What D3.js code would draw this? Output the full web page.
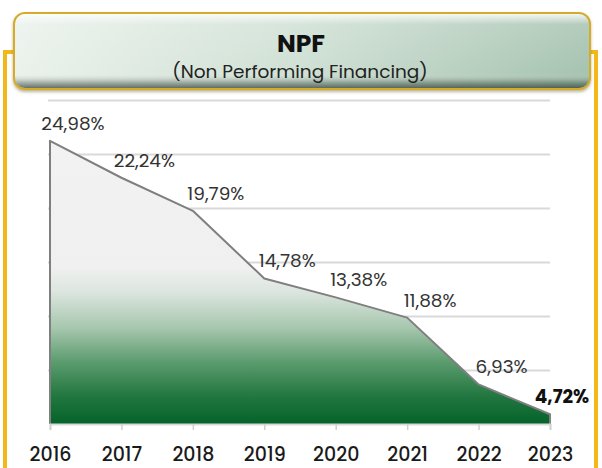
<!DOCTYPE html>
<html>
<head>
<meta charset="utf-8">
<script src="https://cdn.jsdelivr.net/npm/d3@7"></script>
<style>
  html, body { margin: 0; padding: 0; background: #fff; }
  svg { display: block; font-family: "Poppins", Inter, "Noto Sans", sans-serif; }
</style>
</head>
<body>
<svg id="chart" width="602" height="468"></svg>
<script>
// data
const years = [2016, 2017, 2018, 2019, 2020, 2021, 2022, 2023];
const npf = [24.98, 22.24, 19.79, 14.78, 13.38, 11.88, 6.93, 4.72];
const npfLabels = ["24,98%", "22,24%", "19,79%", "14,78%", "13,38%", "11,88%", "6,93%", "4,72%"];
const gridTicks = [4, 8, 12, 16, 20, 24, 28];

const title = "NPF";
const subtitle = "(Non Performing Financing)";

const data = years.map((y, i) => ({ year: y, v: npf[i], label: npfLabels[i] }));

const svg = d3.select("#chart");
const defs = svg.append("defs");

// gold frame
svg.append("rect")
  .attr("x", 5).attr("y", 52).attr("width", 591).attr("height", 480)
  .attr("fill", "#fff").attr("stroke", "#f2b81a").attr("stroke-width", 4);

// title box gradients
const hg = defs.append("linearGradient").attr("id", "titleH")
  .attr("x1", 0).attr("x2", 1).attr("y1", 0).attr("y2", 0);
hg.append("stop").attr("offset", "0%").attr("stop-color", "#ebf2ec");
hg.append("stop").attr("offset", "50%").attr("stop-color", "#cfe0d4");
hg.append("stop").attr("offset", "100%").attr("stop-color", "#a6c3b0");

const vg = defs.append("linearGradient").attr("id", "titleV")
  .attr("x1", 0).attr("x2", 0).attr("y1", 0).attr("y2", 1);
vg.append("stop").attr("offset", "0%").attr("stop-color", "#fff").attr("stop-opacity", 0.85);
vg.append("stop").attr("offset", "14%").attr("stop-color", "#fff").attr("stop-opacity", 0.15);
vg.append("stop").attr("offset", "80%").attr("stop-color", "#fff").attr("stop-opacity", 0);
vg.append("stop").attr("offset", "92%").attr("stop-color", "#1e2e22").attr("stop-opacity", 0.3);
vg.append("stop").attr("offset", "100%").attr("stop-color", "#1e2e22").attr("stop-opacity", 0.65);

const shadow = defs.append("filter").attr("id", "shadow")
  .attr("x", "-5%").attr("y", "-20%").attr("width", "110%").attr("height", "150%");
shadow.append("feDropShadow").attr("dx", 0).attr("dy", 2).attr("stdDeviation", 1.5)
  .attr("flood-color", "#7a6a30").attr("flood-opacity", 0.5);

const tb = { x: 14, y: 13, w: 576, h: 76 };
svg.append("rect")
  .attr("x", tb.x).attr("y", tb.y).attr("width", tb.w).attr("height", tb.h)
  .attr("rx", 11)
  .attr("fill", "url(#titleH)").attr("stroke", "#d6ab2a").attr("stroke-width", 2)
  .attr("filter", "url(#shadow)");
svg.append("rect")
  .attr("x", tb.x + 1).attr("y", tb.y + 1).attr("width", tb.w - 2).attr("height", tb.h - 2)
  .attr("rx", 10).attr("fill", "url(#titleV)");

svg.append("text").text(title)
  .attr("x", 301).attr("y", 52).attr("text-anchor", "middle")
  .attr("font-size", 25).attr("font-weight", 700).attr("fill", "#111");
svg.append("text").text(subtitle)
  .attr("x", 300).attr("y", 78).attr("text-anchor", "middle")
  .attr("font-size", 18.5).attr("font-weight", 400).attr("fill", "#222");

// chart
const x = d3.scalePoint().domain(years).range([50, 550]);
const y = d3.scaleLinear().domain([4, 28]).range([424, 100]);

// gridlines
svg.append("g")
  .attr("transform", "translate(550,0)")
  .call(d3.axisLeft(y).tickValues(gridTicks.slice(1)).tickSize(502).tickFormat(""))
  .call(g => g.select(".domain").remove())
  .call(g => g.selectAll("line").attr("stroke", "#d9d9d9").attr("stroke-width", 2));

// area gradient
const ag = defs.append("linearGradient").attr("id", "areaFill")
  .attr("gradientUnits", "userSpaceOnUse")
  .attr("x1", 0).attr("x2", 0).attr("y1", y(npf[0])).attr("y2", y(4));
ag.append("stop").attr("offset", "0%").attr("stop-color", "#f2f2f2");
ag.append("stop").attr("offset", "45%").attr("stop-color", "#eff0ef");
ag.append("stop").attr("offset", "53%").attr("stop-color", "#dde6e0");
ag.append("stop").attr("offset", "66%").attr("stop-color", "#a7c7ae");
ag.append("stop").attr("offset", "78%").attr("stop-color", "#5c9c6f");
ag.append("stop").attr("offset", "90%").attr("stop-color", "#237740");
ag.append("stop").attr("offset", "100%").attr("stop-color", "#04632a");

const area = d3.area()
  .x(d => x(d.year)).y0(y(4)).y1(d => y(d.v));

svg.append("path").datum(data)
  .attr("d", area).attr("fill", "url(#areaFill)");

// outline: left edge, top line, right edge
const outlinePts = [{ year: years[0], v: 4 }, ...data, { year: years[years.length - 1], v: 4 }];
svg.append("path").datum(outlinePts)
  .attr("d", d3.line().x(d => x(d.year)).y(d => y(d.v)))
  .attr("fill", "none").attr("stroke", "#7f7f7f").attr("stroke-width", 2)
  .attr("stroke-linejoin", "round");

// x axis
svg.append("g")
  .attr("transform", `translate(0,${y(4)})`)
  .call(d3.axisBottom(x).tickSize(6).tickPadding(18))
  .call(g => g.select(".domain").attr("stroke", "#d9d9d9").attr("stroke-width", 2))
  .call(g => g.selectAll("line").attr("stroke", "#d0d0d0").attr("stroke-width", 1.5))
  .call(g => g.selectAll("text")
    .attr("font-family", "Poppins, Inter, sans-serif")
    .attr("font-size", 19).attr("font-weight", 500).attr("fill", "#1a1a1a"));

// value labels
const last = data.length - 1;
svg.append("g").selectAll("text").data(data).join("text")
  .attr("x", (d, i) => Math.min(x(d.year) + 23, 562))
  .attr("y", d => y(d.v) - 11)
  .attr("text-anchor", "middle")
  .attr("font-size", 18.5)
  .attr("font-weight", (d, i) => i === last ? 700 : 400)
  .attr("fill", (d, i) => i === last ? "#111" : "#333")
  .text(d => d.label);
</script>
</body>
</html>
